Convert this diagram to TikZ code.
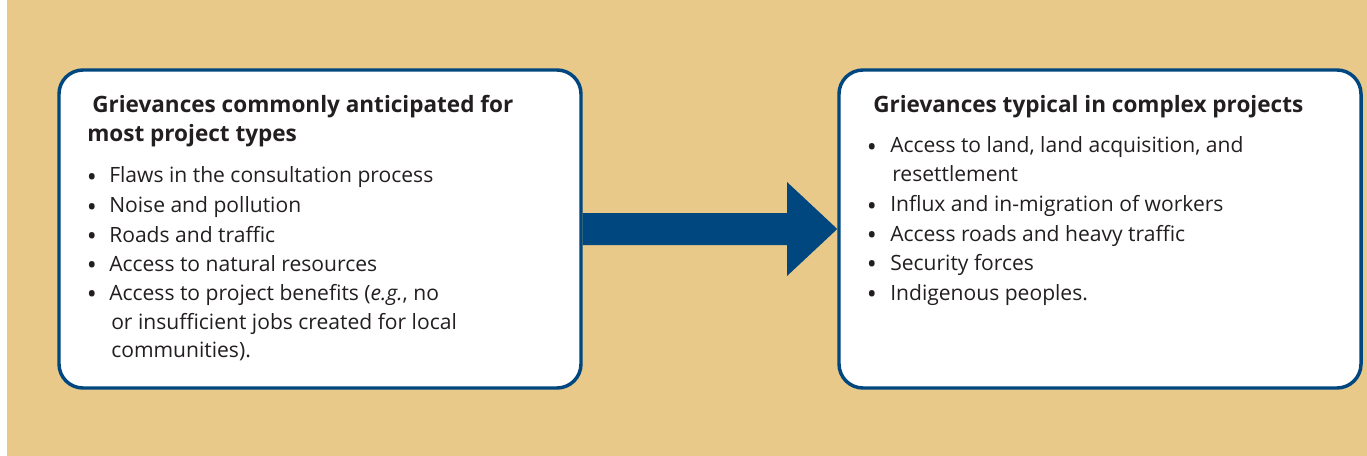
\documentclass[tikz,border=0pt]{standalone}
\usepackage{fontspec}
\setmainfont{Open Sans}
\definecolor{bgtan}{RGB}{233,201,138}
\definecolor{boxblue}{RGB}{0,70,127}
\definecolor{ink}{RGB}{35,31,32}
\begin{document}
\begin{tikzpicture}[x=0.75pt,y=-0.75pt,
  box/.style={draw=boxblue, line width=2.6pt, fill=white, rounded corners=18pt,
    minimum width=391.5pt, minimum height=238.5pt, inner sep=0pt},
  ttl/.style={anchor=base west, inner sep=0pt, text=ink,
    font=\fontsize{16.9}{20}\selectfont\bfseries},
  itm/.style={anchor=base west, inner sep=0pt, text=ink,
    font=\fontsize{15.8}{19}\selectfont},
  bul/.style={anchor=base, inner sep=0pt, text=ink, yshift=-2.5pt,
    font=\fontsize{20}{24}\selectfont}]
\useasboundingbox (0,0) rectangle (1367,456);
\fill[bgtan] (7,0) rectangle (1367,456);
\node[box] (b1) at (320,229) {};
\node[box] (b2) at (1100,229) {};
\fill[boxblue] (b1.east |- 0,213) -- (787,213) -- (787,182) -- (b2.west |- 0,229)
  -- (787,276) -- (787,245) -- (b1.east |- 0,245) -- cycle;
% left box
\node[ttl] (l1) at (92,113) {Grievances commonly anticipated for};
\node[ttl] (l2) at (87,142) {most project types};
\node[bul] (lb1) at (92,183) {•};
\node[itm] (li1) at (109,183) {Flaws in the consultation process};
\node[bul] (lb2) at (92,213) {•};
\node[itm] (li2) at (109,213) {Noise and pollution};
\node[bul] (lb3) at (92,242) {•};
\node[itm] (li3) at (109,242) {Roads and traffic};
\node[bul] (lb4) at (92,271) {•};
\node[itm] (li4) at (109,271) {Access to natural resources};
\node[bul] (lb5) at (92,300) {•};
\node[itm] (li5) at (109,300) {Access to project benefits (\textit{e.g.}, no};
\node[itm] (li6) at (111,329) {or insufficient jobs created for local};
\node[itm] (li7) at (111,357) {communities).};
% right box
\node[ttl] (r1) at (873,113) {Grievances typical in complex projects};
\node[bul] (rb1) at (872,153) {•};
\node[itm] (ri1) at (890,153) {Access to land, land acquisition, and};
\node[itm] (ri2) at (892,182) {resettlement};
\node[bul] (rb2) at (872,212) {•};
\node[itm] (ri3) at (890,212) {Influx and in-migration of workers};
\node[bul] (rb3) at (872,241) {•};
\node[itm] (ri4) at (890,241) {Access roads and heavy traffic};
\node[bul] (rb4) at (872,270) {•};
\node[itm] (ri5) at (890,270) {Security forces};
\node[bul] (rb5) at (872,300) {•};
\node[itm] (ri6) at (890,300) {Indigenous peoples.};
\end{tikzpicture}
\end{document}
